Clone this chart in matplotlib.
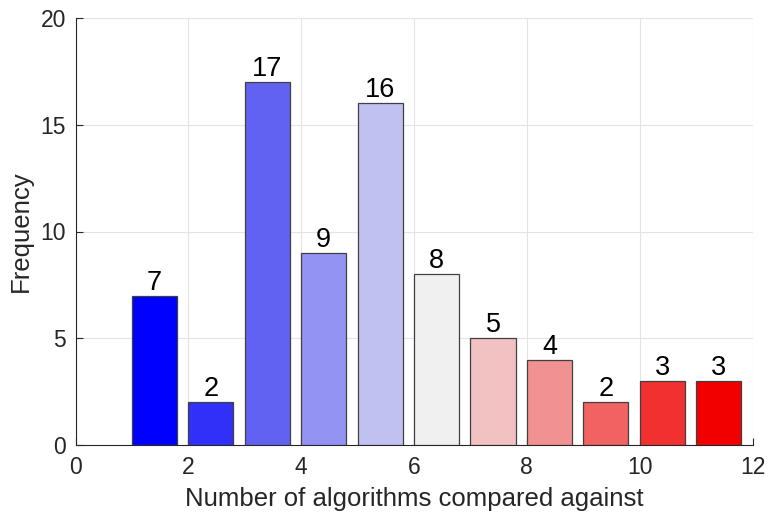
import numpy as np
import matplotlib
matplotlib.use('Agg')
import matplotlib.pyplot as plt

plt.rcParams['font.family'] = ['Liberation Sans', 'DejaVu Sans']

# bin left edges and counts
bins = np.arange(1, 12)
counts = [7, 2, 17, 9, 16, 8, 5, 4, 2, 3, 3]
barColours = ['#0000FF', '#3030F8', '#6262F2', '#9393F3', '#C1C1F1', '#F0F0F0',
              '#F2C1C1', '#F29191', '#F26262', '#F23030', '#F20000']

fig = plt.figure(figsize=(7.68, 5.14), dpi=100)
ax = fig.add_axes([75.5 / 768, 1 - 445 / 514, (752.5 - 75.5) / 768, (445 - 18) / 514])

ax.bar(bins, counts, width=0.8, align='edge', color=barColours,
       edgecolor='#404040', linewidth=0.9, zorder=3)

for b, c in zip(bins, counts):
    ax.text(b + 0.4, c + 0.0, str(c), ha='center', va='bottom', fontsize=19.5, color='black', zorder=4)

ax.set_xlim(0, 12)
ax.set_ylim(0, 20)
ax.set_xticks(np.arange(0, 13, 2))
ax.set_yticks(np.arange(0, 21, 5))
ax.grid(True, color='#E3E3E3', linewidth=0.8, zorder=0)
ax.set_axisbelow(True)

for side in ['top', 'right']:
    ax.spines[side].set_visible(False)
for side in ['left', 'bottom']:
    ax.spines[side].set_color('#262626')
    ax.spines[side].set_linewidth(0.8)

ax.tick_params(direction='in', length=5, width=0.8, colors='#262626', labelsize=16.5)
ax.tick_params(axis='x', pad=8)
ax.tick_params(axis='y', pad=7)
ax.set_xlabel('Number of algorithms compared against', fontsize=18.5, color='#262626', labelpad=6)
ax.set_ylabel('Frequency', fontsize=18.5, color='#262626', labelpad=5)

fig.savefig('out.png', dpi=100)
